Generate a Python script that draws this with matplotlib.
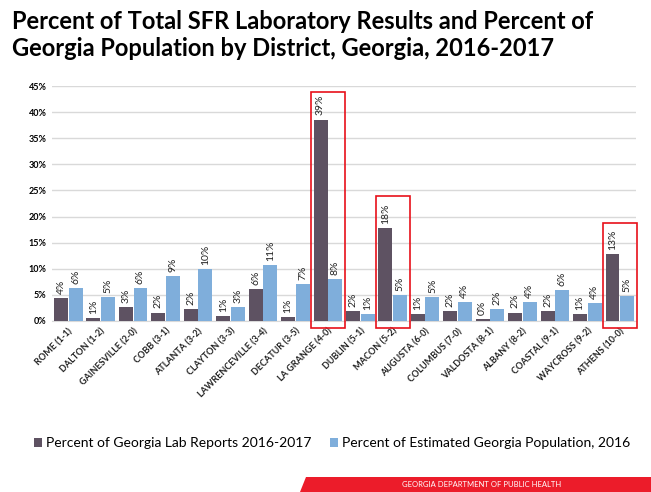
import numpy as np
import matplotlib.pyplot as plt
from matplotlib.patches import Rectangle, Polygon

plt.rcParams["font.family"] = ["Lato", "DejaVu Sans"]

districts = ["ROME (1-1)", "DALTON (1-2)", "GAINESVILLE (2-0)", "COBB (3-1)",
             "ATLANTA (3-2)", "CLAYTON (3-3)", "LAWRENCEVILLE (3-4)", "DECATUR (3-5)",
             "LA GRANGE (4-0)", "DUBLIN (5-1)", "MACON (5-2)", "AUGUSTA (6-0)",
             "COLUMBUS (7-0)", "VALDOSTA (8-1)", "ALBANY (8-2)", "COASTAL (9-1)",
             "WAYCROSS (9-2)", "ATHENS (10-0)"]
lab_reports = [4.4, 0.6, 2.6, 1.6, 2.2, 0.9, 6.1, 0.7, 38.6, 1.9,
               17.8, 1.3, 1.9, 0.4, 1.6, 1.9, 1.3, 12.8]
population = [6.3, 4.6, 6.3, 8.6, 9.9, 2.6, 10.7, 7.0, 8.0, 1.3,
              4.9, 4.6, 3.6, 2.2, 3.6, 5.9, 3.5, 4.7]
# highlighted districts: (index, top of box in %)
highlights = [(8, 43.9), (10, 24.0), (17, 18.7)]

dark = "#5E5262"
blue = "#7FAEDB"

fig = plt.figure(figsize=(6.51, 4.92), dpi=100)
ax = fig.add_axes([0.08, 0.3476, 0.897, 0.4774])

x = np.arange(len(districts))
w = 0.43
b1 = ax.bar(x - w / 2 - 0.01, lab_reports, w, color=dark,
            label="Percent of Georgia Lab Reports 2016-2017", zorder=3)
b2 = ax.bar(x + w / 2 + 0.01, population, w, color=blue,
            label="Percent of Estimated Georgia Population, 2016", zorder=3)

for bars, vals in ((b1, lab_reports), (b2, population)):
    for r, v in zip(bars, vals):
        ax.annotate(f"{round(v):.0f}%", (r.get_x() + r.get_width() / 2, v),
                    xytext=(0, 3), textcoords="offset points",
                    ha="center", va="bottom", rotation=90, fontsize=7.5,
                    color="#222222")

for i, top in highlights:
    ax.add_patch(Rectangle((i - 0.52, -1.3), 1.04, top + 1.3, fill=False,
                           edgecolor="#E8101A", linewidth=1.2, clip_on=False,
                           zorder=4))

ax.set_xlim(-0.5, len(districts) - 0.5)
ax.set_ylim(0, 45)
ax.set_yticks(np.arange(0, 46, 5))
ax.set_yticklabels([f"{t}%" for t in range(0, 46, 5)], fontsize=6.5, weight="bold")
ax.set_xticks(x)
ax.set_xticklabels(districts, rotation=45, ha="right", rotation_mode="anchor",
                   fontsize=6.5, weight="bold", color="#222222")
ax.tick_params(length=0, pad=4)
ax.yaxis.grid(True, color="#D9D9D9", linewidth=1, zorder=0)
for s in ["top", "right", "left"]:
    ax.spines[s].set_visible(False)
ax.spines["bottom"].set_color("#D9D9D9")

fig.text(0.018, 0.98, "Percent of Total SFR Laboratory Results and Percent of\n"
         "Georgia Population by District, Georgia, 2016-2017",
         ha="left", va="top", fontsize=17, weight="bold", linespacing=1.22)

fig.legend(handles=[b1, b2], loc="center", bbox_to_anchor=(0.51, 0.099), ncol=2,
           frameon=False, fontsize=10, handlelength=0.6, handleheight=0.6,
           handletextpad=0.3, columnspacing=1.3)

W, H = 651, 492
fig.patches.append(Polygon([(306 / W, 1 - 477 / H), (1, 1 - 477 / H), (1, 0),
                            (300 / W, 0)], closed=True, facecolor="#EC1C2A",
                           edgecolor="none", transform=fig.transFigure))
fig.text(482 / W, 1 - 484.5 / H, "GEORGIA DEPARTMENT OF PUBLIC HEALTH",
         ha="center", va="center", fontsize=5.5, color="white")

fig.savefig("out.png", dpi=100)
